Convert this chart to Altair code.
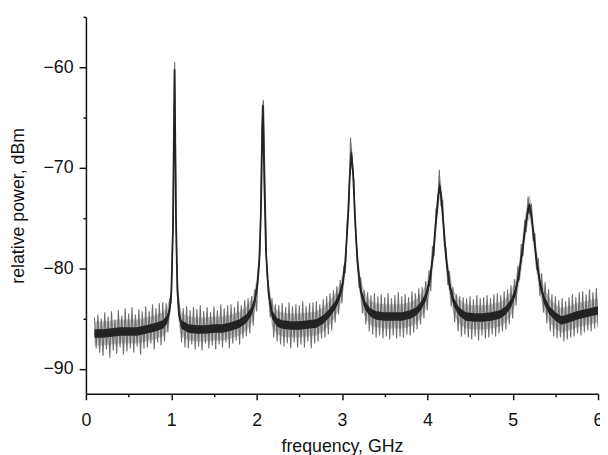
import altair as alt
import pandas as pd

# ---- data ----
# noisy trace, sampled every 0.02 GHz starting at 0.10 GHz (dBm)
TRACE_START = 0.10
TRACE_STEP = 0.02
trace_power = [
    -84.9, -88.0, -84.6, -88.4, -85.0, -88.7, -84.4, -88.1, -84.8, -88.9,
    -84.3, -88.2, -85.1, -88.5, -84.2, -87.9, -84.7, -88.6, -84.0, -88.3,
    -84.5, -88.0, -83.9, -88.4, -84.6, -87.8, -84.1, -88.6, -84.3, -88.0,
    -83.8, -87.9, -84.3, -87.5, -83.6, -88.1, -84.0, -87.4, -83.5, -87.7,
    -83.4, -87.3, -83.5, -86.4, -83.0, -83.5, -74.5, -59.5, -78.0, -82.5,
    -84.2, -87.4, -84.0, -87.9, -83.8, -88.0, -84.2, -87.6, -83.9, -88.1,
    -84.1, -87.8, -83.7, -88.2, -84.3, -87.5, -83.9, -88.0, -84.4, -87.7,
    -83.8, -88.1, -84.2, -87.6, -83.6, -87.9, -84.0, -87.4, -83.7, -88.0,
    -83.6, -87.5, -83.9, -87.2, -83.3, -87.6, -83.7, -87.0, -83.2, -86.8,
    -83.0, -86.5, -82.8, -85.7, -82.1, -84.3, -79.8, -78.6, -66.0, -63.3,
    -72.0, -80.6, -81.8, -84.9, -83.0, -86.9, -83.6, -87.3, -83.7, -87.6,
    -83.5, -87.8, -83.9, -87.5, -83.4, -88.0, -83.8, -87.4, -83.6, -87.9,
    -83.7, -87.6, -83.3, -87.9, -83.8, -87.3, -83.5, -88.0, -83.4, -87.5,
    -83.3, -87.3, -83.6, -87.0, -83.1, -86.9, -82.8, -86.6, -82.5, -86.2,
    -82.2, -85.4, -81.8, -84.6, -81.2, -83.5, -79.8, -80.5, -75.3, -74.3,
    -67.0, -70.0, -71.2, -77.0, -78.3, -82.0, -80.9, -84.5, -82.2, -85.6,
    -82.4, -86.3, -82.7, -86.6, -82.5, -86.9, -82.8, -86.7, -82.6, -87.0,
    -82.9, -86.8, -82.5, -87.1, -83.0, -86.7, -82.7, -87.0, -82.4, -86.8,
    -82.8, -86.9, -82.6, -86.6, -82.9, -86.7, -82.3, -86.4, -82.5, -86.1,
    -82.0, -85.6, -81.9, -85.0, -81.3, -84.2, -80.2, -82.3, -77.8, -78.8,
    -74.2, -74.5, -70.2, -73.8, -73.2, -77.8, -78.0, -81.7, -80.3, -83.8,
    -81.9, -85.4, -82.6, -86.3, -82.8, -86.8, -82.9, -86.6, -83.0, -86.9,
    -82.8, -87.1, -83.1, -86.8, -82.7, -87.2, -83.0, -86.7, -82.9, -87.0,
    -82.7, -86.9, -83.0, -86.6, -82.6, -86.8, -82.5, -86.5, -82.7, -86.3,
    -82.3, -86.1, -82.1, -85.6, -81.7, -85.0, -81.1, -83.7, -79.8, -81.2,
    -77.6, -78.8, -75.2, -76.4, -72.9, -74.7, -73.6, -77.3, -76.5, -80.2,
    -79.0, -82.8, -80.5, -84.4, -81.4, -85.5, -82.1, -86.3, -82.6, -86.8,
    -82.8, -87.0, -83.2, -86.9, -83.0, -87.3, -83.3, -87.1, -82.9, -86.9,
    -82.6, -86.8, -82.9, -86.5, -82.4, -86.7, -82.3, -86.4, -82.6, -86.2,
    -82.1, -86.3, -82.4, -86.0, -82.0, -85.9,
]

# dense dark core of the trace
core_freq = [
    0.10, 0.20, 0.30, 0.40, 0.50, 0.60, 0.70, 0.80, 0.90, 0.95, 0.98, 1.00,
    1.02, 1.03, 1.038, 1.045, 1.055, 1.07, 1.09, 1.12, 1.20, 1.30, 1.40,
    1.50, 1.60, 1.70, 1.80, 1.88, 1.94, 1.98, 2.01, 2.03, 2.05, 2.065,
    2.072, 2.08, 2.09, 2.11, 2.14, 2.18, 2.24, 2.30, 2.40, 2.50, 2.60,
    2.70, 2.78, 2.85, 2.92, 2.97, 3.01, 3.04, 3.07, 3.09, 3.11, 3.13,
    3.15, 3.18, 3.22, 3.27, 3.33, 3.40, 3.50, 3.60, 3.70, 3.80, 3.87,
    3.93, 3.98, 4.03, 4.07, 4.10, 4.125, 4.145, 4.165, 4.19, 4.22, 4.26,
    4.31, 4.37, 4.45, 4.55, 4.65, 4.75, 4.85, 4.92, 4.98, 5.03, 5.07,
    5.11, 5.15, 5.18, 5.20, 5.22, 5.25, 5.28, 5.32, 5.37, 5.43, 5.50,
    5.57, 5.65, 5.75, 5.85, 5.95, 6.00,
]
core_power = [
    -86.5, -86.5, -86.4, -86.3, -86.3, -86.3, -86.1, -85.9, -85.6, -85.1, -84.2, -82.5,
    -76.0, -67.0, -60.2, -66.0, -75.0, -82.0, -84.6, -85.6, -86.0, -86.1, -86.1,
    -86.0, -86.0, -85.8, -85.5, -85.0, -84.3, -83.2, -81.5, -79.5, -74.5, -67.0,
    -63.8, -66.5, -71.5, -78.5, -82.5, -84.6, -85.4, -85.6, -85.7, -85.7, -85.6,
    -85.5, -85.1, -84.5, -83.7, -82.8, -81.5, -79.3, -75.0, -71.0, -68.5, -70.5,
    -74.5, -79.3, -82.3, -83.7, -84.4, -84.7, -84.8, -84.8, -84.8, -84.6, -84.3,
    -83.7, -82.9, -81.2, -78.5, -75.5, -73.0, -71.8, -73.0, -75.8, -79.0, -81.7,
    -83.4, -84.3, -84.8, -84.9, -84.9, -84.8, -84.6, -84.2, -83.5, -82.4, -80.8,
    -78.5, -75.8, -74.2, -73.9, -74.8, -77.0, -79.3, -81.5, -83.2, -84.2, -84.8,
    -85.2, -85.0, -84.7, -84.5, -84.3, -84.2,
]

x_ticks = [0, 0.5, 1, 1.5, 2, 2.5, 3, 3.5, 4, 4.5, 5, 5.5, 6]
y_ticks = [-90, -85, -80, -75, -70, -65, -60, -55]

# styling constants (half-heights of drawn bands, dB)
HALO = 1.2
CORE = 0.42

trace_df = pd.DataFrame({
    "f": [round(TRACE_START + TRACE_STEP * i, 3) for i in range(len(trace_power))],
    "p": trace_power,
})
core_df = pd.DataFrame({"f": core_freq, "p": core_power})

FONT = "Liberation Sans"
Y_SCALE = alt.Scale(domain=[-92.5, -55], nice=False, zero=False)

x_enc = alt.X(
    "f:Q",
    scale=alt.Scale(domain=[0, 6], nice=False, zero=False),
    axis=alt.Axis(
        title="frequency, GHz",
        values=x_ticks,
        labelExpr="datum.value % 1 === 0 ? format(datum.value, 'd') : ''",
        tickSize={"condition": {"test": "datum.value % 1 !== 0", "value": 3}, "value": 6},
        grid=False,
        labelFlush=False,
        labelPadding=12,
        titlePadding=8,
    ),
)
y_axis = alt.Axis(
    title="relative power, dBm",
    values=y_ticks,
    labelExpr="datum.value % 10 === 0 ? datum.label : ''",
    tickSize={"condition": {"test": "datum.value % 10 !== 0", "value": 3}, "value": 7},
    grid=False,
    labelFlush=False,
    labelPadding=6,
    titlePadding=16,
)

halo = alt.Chart(core_df).transform_calculate(
    lo=f"datum.p - {HALO}", hi=f"datum.p + {HALO}"
).mark_area(color="#c6c6c6", clip=True).encode(
    x=x_enc,
    y=alt.Y("lo:Q", scale=Y_SCALE, axis=y_axis),
    y2=alt.Y2("hi"),
)

noise = alt.Chart(trace_df).mark_line(color="#6e6e6e", strokeWidth=1.1, clip=True).encode(
    x="f:Q", y=alt.Y("p:Q"), order="f:Q"
)

core_band = alt.Chart(core_df).transform_calculate(
    lo=f"datum.p - {CORE}", hi=f"datum.p + {CORE}"
).mark_area(color="#232323", clip=True).encode(
    x="f:Q", y="lo:Q", y2=alt.Y2("hi"),
)
core_line = alt.Chart(core_df).mark_line(color="#232323", strokeWidth=1.8, clip=True).encode(
    x="f:Q", y="p:Q", order="f:Q"
)

chart = alt.layer(halo, noise, core_band, core_line).properties(
    width=519,
    height=382,
    autosize=alt.AutoSizeParams(type="none"),
    padding={"left": 79, "top": 6, "right": 2, "bottom": 59},
).configure_view(stroke=None).configure_axis(
    labelFont=FONT,
    titleFont=FONT,
    labelFontSize=18,
    titleFontSize=18,
    titleFontWeight="normal",
    labelColor="#111111",
    titleColor="#111111",
    domainColor="#111111",
    tickColor="#111111",
    domainWidth=1.5,
    tickWidth=1.5,
)

chart.save("out.html", embed_options={"renderer": "svg", "actions": False})
